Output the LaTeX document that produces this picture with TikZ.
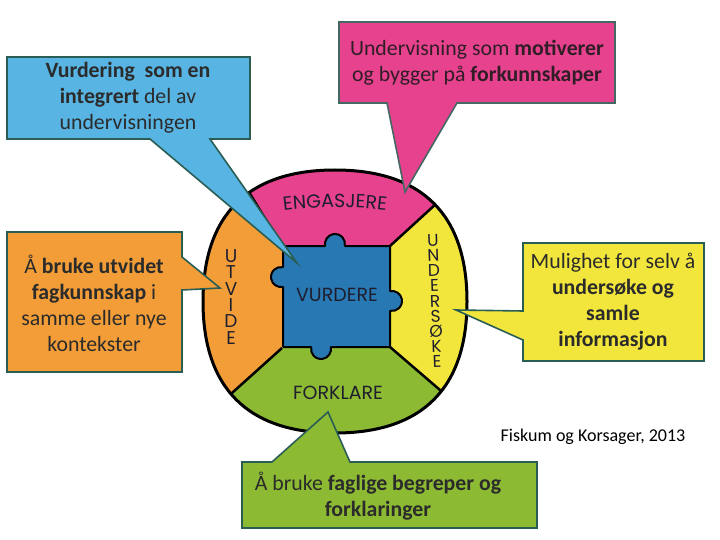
\documentclass[tikz,border=0pt]{standalone}
\usepackage{fontspec}
\setmainfont{Carlito}
\newfontfamily\ringfont{Poppins}
\usetikzlibrary{decorations.text}
\definecolor{ringpink}{HTML}{E6428E}
\definecolor{ringorange}{HTML}{F29D38}
\definecolor{ringyellow}{HTML}{F2E63C}
\definecolor{ringgreen}{HTML}{8DBA33}
\definecolor{ringblue}{HTML}{2879B3}
\definecolor{callblue}{HTML}{58B4E2}
\definecolor{calledge}{HTML}{2A5E55}
\definecolor{ctxt}{HTML}{2B2B2B}
\definecolor{ringtxt}{HTML}{1E1E2E}
\def\ringpath{(467,-301.5) .. controls (467,-214.7) and (422.1,-170) .. (335,-170) .. controls (247.9,-170) and (203,-214.7) .. (203,-301.5) .. controls (203,-388.3) and (247.9,-433) .. (335,-433) .. controls (422.1,-433) and (467,-388.3) .. (467,-301.5) -- cycle}
\begin{document}
\begin{tikzpicture}[x=1pt,y=1pt,
  callout/.style={line width=1.6pt, draw=calledge, line join=miter},
  ctext/.style={align=center, text=ctxt, font=\fontsize{21.8}{26}\selectfont, inner sep=0pt},
  ringlabel/.style={text=ringtxt, font=\ringfont\fontsize{19}{19}\selectfont, inner sep=0pt},
  divider/.style={line width=2.5pt, draw=black}]
\useasboundingbox[fill=white] (0,0) rectangle (720,-540);
% ring sectors
\begin{scope}
  \clip \ringpath;
  \fill[ringpink] (282,-246) -- (212,-132) -- (484,-132) -- (484,-160) -- (390,-246) -- cycle;
  \fill[ringorange] (282,-246) -- (212,-132) -- (150,-132) -- (150,-438) -- (182,-438) -- (282,-348) -- cycle;
  \fill[ringgreen] (282,-348) -- (182,-438) -- (182,-480) -- (490,-480) -- (490,-433) -- (390,-347) -- cycle;
  \fill[ringyellow] (390,-246) -- (484,-160) -- (520,-160) -- (520,-433) -- (490,-433) -- (390,-347) -- cycle;
  \draw[divider] (282,-246) -- (212,-132);
  \draw[divider] (390,-246) -- (484,-160);
  \draw[divider] (390,-347) -- (490,-433);
  \draw[divider] (282,-348) -- (182,-438);
\end{scope}
% puzzle piece
\draw[fill=ringblue, line width=2pt, line join=round]
  (283,-246) -- (325.2,-246) arc (191.5:-11.5:10) -- (390,-246)
  -- (390,-291.2) arc (101.5:-101.5:10) -- (390,-347)
  -- (330.8,-347) arc (11.5:-191.5:10) -- (283,-347)
  -- (283,-286.8) arc (-78.5:-281.5:10) -- cycle;
\draw[line width=3pt] \ringpath;
% ring labels
\path[decorate, decoration={text along path, text align=center,
   text={|\ringfont\fontsize{19}{19}\selectfont\color{ringtxt}|ENGASJERE}}]
   (262,-214) .. controls (300,-205) and (370,-205) .. (408,-214);
\node[ringlabel] (forklare) at (338,-393) {FORKLARE};
\node[ringlabel] (vurdere) at (337,-295) {VURDERE};
\node[ringlabel, align=center, font=\ringfont\fontsize{18.5}{16.3}\selectfont] (utvide) at (231,-297) {U\\T\\V\\I\\D\\E};
\node[ringlabel, align=center, rotate=2, font=\ringfont\fontsize{17}{15.1}\selectfont] (undersoke) at (435,-301) {U\\N\\D\\E\\R\\S\\Ø\\K\\E};
% callouts
\draw[callout, fill=callblue] (7,-57) -- (250,-57) -- (250,-139) -- (210,-139) -- (297,-263) -- (150,-139) -- (7,-139) -- cycle;
\draw[callout, fill=ringpink, draw=calledge!70!gray] (339,-22) -- (615,-22) -- (615,-103) -- (457,-103) -- (405,-192) -- (387,-103) -- (339,-103) -- cycle;
\draw[callout, fill=ringyellow] (523,-243) -- (704,-243) -- (704,-361) -- (523,-361) -- (523,-340) -- (456,-310) -- (523,-311) -- cycle;
\draw[callout, fill=ringorange] (7,-232) -- (182,-232) -- (182,-257) -- (220,-288) -- (182,-290) -- (182,-372) -- (7,-372) -- cycle;
\draw[callout, fill=ringgreen] (242,-462) -- (272,-462) -- (328,-412) -- (350,-462) -- (537,-462) -- (537,-528) -- (242,-528) -- cycle;
% callout texts
\node[ctext] (tblue) at (128,-98) {\textbf{Vurdering\ \ som en}\\\textbf{integrert} del av\\undervisningen};
\node[ctext, text=ctxt!80!ringpink!60!black] (tpink) at (477,-63) {Undervisning som \textbf{motiverer}\\og bygger på \textbf{forkunnskaper}};
\node[ctext] (tyellow) at (613,-302) {Mulighet for selv å\\\textbf{undersøke og}\\\textbf{samle}\\\textbf{informasjon}};
\node[ctext] (torange) at (94,-303) {Å \textbf{bruke utvidet}\\\textbf{fagkunnskap} i\\samme eller nye\\kontekster};
\node[ctext] (tgreen) at (378,-496) {Å bruke \textbf{faglige begreper og}\\\textbf{forklaringer}};
\node[text=black, font=\fontsize{18}{18}\selectfont, inner sep=0pt] (cite) at (593,-437) {Fiskum og Korsager, 2013};
\end{tikzpicture}
\end{document}
